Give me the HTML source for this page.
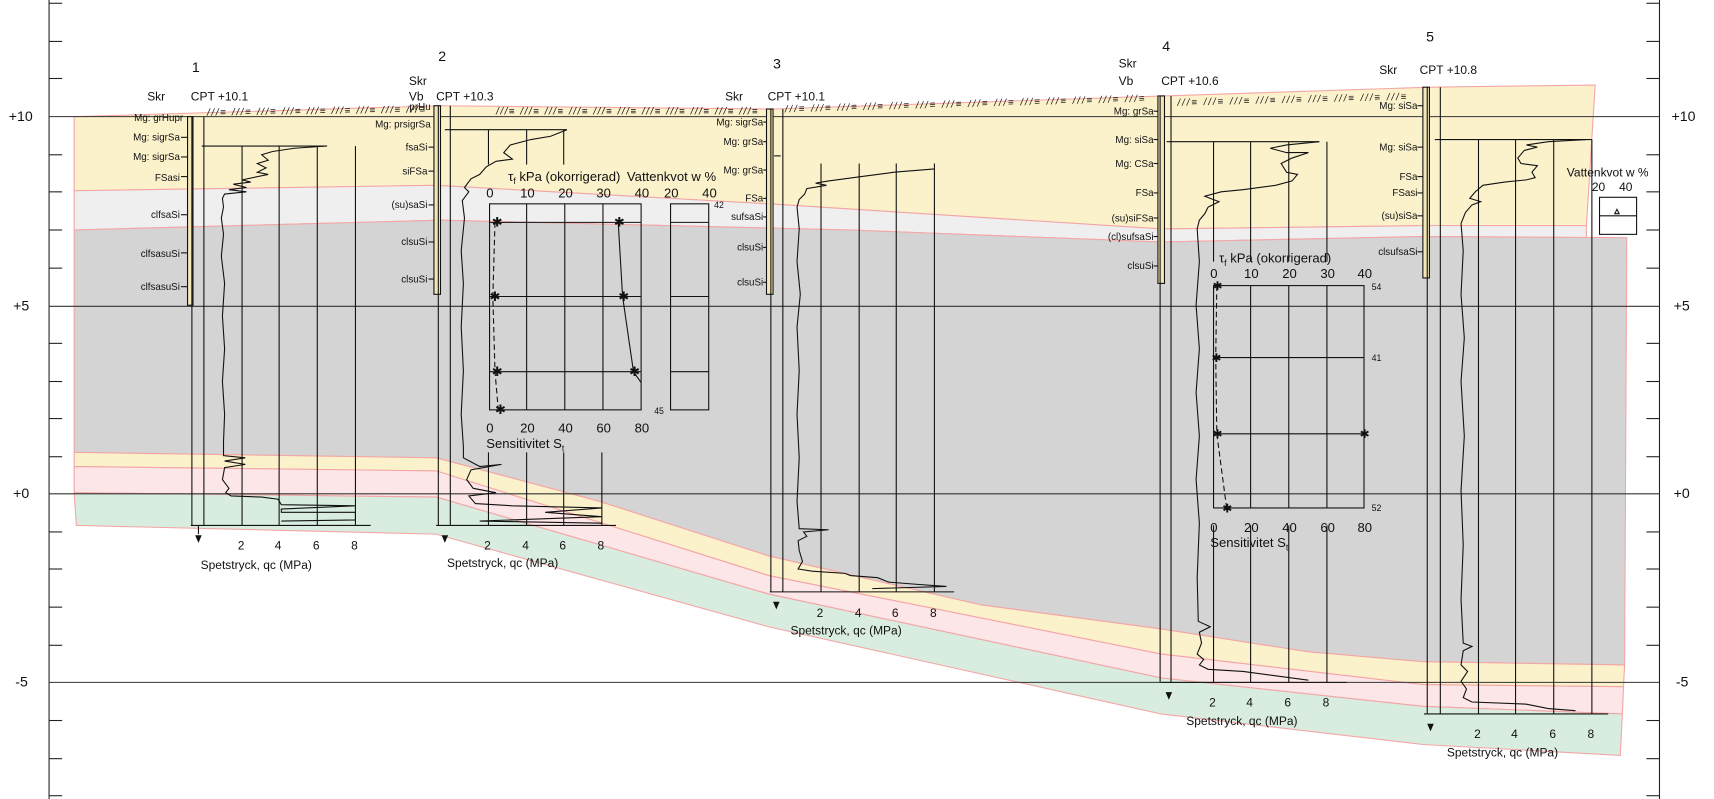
<!DOCTYPE html>
<html><head><meta charset="utf-8"><style>
html,body{margin:0;padding:0;background:#fff;}
svg{display:block;}
text{font-family:"Liberation Sans Narrow","Liberation Sans",sans-serif;fill:#111;}
</style></head><body>
<svg width="1714" height="799" viewBox="0 0 1572 733" preserveAspectRatio="none" xmlns="http://www.w3.org/2000/svg">
<g stroke="#f4a6a6" stroke-width="1">
<polygon fill="#fbf2cc" points="68,107 404,97 709,100 1068,88 1311,80 1463,78 1455,207 1305,207 1065,210 705,187 400,170 68,175"/>
<polygon fill="#efefef" points="68,175 400,170 705,187 1065,210 1305,207 1455,207 1455,218 1305,217 1065,222 780,211 404,202 68,211"/>
<polygon fill="#d4d4d4" points="68,211 404,202 780,211 1065,222 1305,217 1492,218 1490,610 1305,607 1200,598 1065,577 900,555 705,510 550,460 400,420 68,415"/>
<polygon fill="#fbf2cc" points="68,415 400,420 550,460 705,510 900,555 1065,577 1200,598 1305,607 1490,610 1489,630 1305,628 1065,600 705,528 400,432 68,428"/>
<polygon fill="#fde6e8" points="68,428 400,432 705,528 1065,600 1305,628 1489,630 1488,655 1305,648 1065,622 705,545 400,456 68,452"/>
<polygon fill="#d8ede0" points="68,452 400,456 705,545 1065,622 1305,648 1488,655 1486,693 1305,683 1065,655 705,575 400,490 70,482"/>
</g>
<g stroke="#222" stroke-width="1">
<line x1="45" y1="0" x2="45" y2="733"/><line x1="1522" y1="0" x2="1522" y2="733"/>
<g id="tk">
<line x1="45" y1="3" x2="57" y2="3"/><line x1="45" y1="38" x2="57" y2="38"/><line x1="45" y1="72" x2="57" y2="72"/><line x1="45" y1="142" x2="57" y2="142"/><line x1="45" y1="176" x2="57" y2="176"/><line x1="45" y1="211" x2="57" y2="211"/><line x1="45" y1="246" x2="57" y2="246"/><line x1="45" y1="315" x2="57" y2="315"/><line x1="45" y1="350" x2="57" y2="350"/><line x1="45" y1="384" x2="57" y2="384"/><line x1="45" y1="419" x2="57" y2="419"/><line x1="45" y1="488" x2="57" y2="488"/><line x1="45" y1="522" x2="57" y2="522"/><line x1="45" y1="557" x2="57" y2="557"/><line x1="45" y1="592" x2="57" y2="592"/><line x1="45" y1="661" x2="57" y2="661"/><line x1="45" y1="696" x2="57" y2="696"/><line x1="45" y1="730" x2="57" y2="730"/>
</g>
<use href="#tk" transform="translate(1465,0)"/>
<line x1="45" y1="107" x2="1522" y2="107" stroke="#333"/>
<line x1="45" y1="281" x2="1522" y2="281" stroke="#333"/>
<line x1="45" y1="453" x2="1522" y2="453" stroke="#333"/>
<line x1="45" y1="626" x2="1522" y2="626" stroke="#333"/>
</g>
<g font-size="13">
<text x="8" y="111">+10</text><text x="12" y="285">+5</text><text x="12" y="457">+0</text><text x="14" y="630">-5</text>
<text x="1533" y="111">+10</text><text x="1535" y="285">+5</text><text x="1535" y="457">+0</text><text x="1537" y="630">-5</text>
</g>
<g font-size="9" font-style="italic" fill="#333">
<text x="190" y="106" textLength="200" transform="rotate(-0.8 190 106)">///≡ ///≡ ///≡ ///≡ ///≡ ///≡ ///≡ ///≡ ///≡</text>
<text x="455" y="105" textLength="240">///≡ ///≡ ///≡ ///≡ ///≡ ///≡ ///≡ ///≡ ///≡ ///≡ ///≡</text>
<text x="720" y="103" textLength="330" transform="rotate(-1.7 720 103)">///≡ ///≡ ///≡ ///≡ ///≡ ///≡ ///≡ ///≡ ///≡ ///≡ ///≡ ///≡ ///≡ ///≡</text>
<text x="1080" y="97" textLength="210" transform="rotate(-1.5 1080 97)">///≡ ///≡ ///≡ ///≡ ///≡ ///≡ ///≡ ///≡ ///≡</text>
</g>

<!-- Borehole 1 -->
<g stroke="#111" stroke-width="1" fill="none">
<rect x="172" y="107" width="5" height="173" fill="#f3e7b8"/>
<line x1="176" y1="107" x2="176" y2="482"/><line x1="187" y1="107" x2="187" y2="482"/>
<line x1="222" y1="134" x2="222" y2="482"/><line x1="256" y1="134" x2="256" y2="482"/><line x1="291" y1="134" x2="291" y2="482"/><line x1="326" y1="134" x2="326" y2="482"/>
<line x1="185" y1="134" x2="300" y2="134"/><line x1="175" y1="482" x2="340" y2="482"/>
<line x1="182" y1="482" x2="182" y2="490"/>
<polyline points="298,134 270,136 250,139 240,142 246,147 236,150 244,154 236,158 246,160 222,165 230,167 214,169 226,172 210,174 226,176 206,178 204,182 205,190 203,200 205,215 203,235 206,260 204,290 206,320 204,350 206,380 205,405 205,418 225,420 206,423 225,426 206,429 204,440 210,448 207,452 212,455 240,456 255,458 258,463 326,464 258,467 258,470 326,470 326,477 258,478"/>
</g>
<polygon points="179,491 185,491 182,498" fill="#111"/>
<g font-size="9" text-anchor="end">
<text x="168" y="111">Mg: grHupr</text><text x="165" y="129">Mg: sigrSa</text><text x="165" y="147">Mg: sigrSa</text><text x="165" y="166">FSasi</text><text x="165" y="200">clfsaSi</text><text x="165" y="236">clfsasuSi</text><text x="165" y="266">clfsasuSi</text>
</g>
<g stroke="#111"><line x1="166" y1="126" x2="172" y2="126"/><line x1="166" y1="144" x2="172" y2="144"/><line x1="166" y1="162" x2="172" y2="162"/><line x1="166" y1="197" x2="172" y2="197"/><line x1="166" y1="232" x2="172" y2="232"/><line x1="166" y1="263" x2="172" y2="263"/></g>
<g font-size="13"><text x="176" y="66">1</text><text x="135" y="92" font-size="11">Skr</text><text x="175" y="92" font-size="11">CPT  +10.1</text></g>
<g font-size="11"><text x="218" y="504">2</text><text x="252" y="504">4</text><text x="287" y="504">6</text><text x="322" y="504">8</text><text x="184" y="522">Spetstryck, qc (MPa)</text></g>

<!-- Borehole 2 -->
<g stroke="#111" stroke-width="1" fill="none">
<rect x="398" y="97" width="6" height="173" fill="#f3e7b8"/>
<line x1="402" y1="97" x2="402" y2="482"/><line x1="413" y1="97" x2="413" y2="482"/>
<line x1="448" y1="119" x2="448" y2="151"/><line x1="483" y1="119" x2="483" y2="151"/><line x1="517" y1="119" x2="517" y2="151"/>
<line x1="448" y1="415" x2="448" y2="482"/><line x1="483" y1="415" x2="483" y2="482"/><line x1="517" y1="415" x2="517" y2="482"/><line x1="552" y1="415" x2="552" y2="482"/>
<line x1="408" y1="119" x2="520" y2="119"/><line x1="400" y1="482" x2="565" y2="482"/>
<polyline points="520,119 505,125 487,128 468,133 462,140 470,146 455,148 446,153 440,160 432,164 426,172 430,176 424,184 426,200 423,230 425,260 423,300 425,340 423,380 425,410 425,420 440,428 460,426 432,431 428,440 434,448 455,452 430,455 436,462 470,464 552,466 500,470 552,474 440,478 552,480"/>
</g>
<polygon points="405,491 411,491 408,498" fill="#111"/>
<g font-size="9" text-anchor="end">
<text x="395" y="101">prHu</text><text x="395" y="117">Mg: prsigrSa</text><text x="392" y="138">fsaSi</text><text x="392" y="160">siFSa</text><text x="392" y="191">(su)saSi</text><text x="392" y="225">clsuSi</text><text x="392" y="259">clsuSi</text>
</g>
<g stroke="#111"><line x1="393" y1="135" x2="398" y2="135"/><line x1="393" y1="157" x2="398" y2="157"/><line x1="393" y1="188" x2="398" y2="188"/><line x1="393" y1="222" x2="398" y2="222"/><line x1="393" y1="256" x2="398" y2="256"/></g>
<g font-size="11"><text x="402" y="56" font-size="13">2</text><text x="375" y="78">Skr</text><text x="375" y="92">Vb</text><text x="400" y="92">CPT  +10.3</text></g>
<g font-size="11"><text x="444" y="504">2</text><text x="479" y="504">4</text><text x="513" y="504">6</text><text x="548" y="504">8</text><text x="410" y="520">Spetstryck, qc (MPa)</text></g>

<!-- Chart A -->
<g stroke="#111" stroke-width="1" fill="none">
<rect x="449" y="187" width="139" height="189"/>
<line x1="483" y1="187" x2="483" y2="376"/><line x1="518" y1="187" x2="518" y2="376"/><line x1="553" y1="187" x2="553" y2="376"/>
<line x1="449" y1="204" x2="588" y2="204"/><line x1="449" y1="272" x2="588" y2="272"/><line x1="449" y1="341" x2="588" y2="341"/>
<rect x="615" y="187" width="35" height="189"/>
<line x1="615" y1="204" x2="650" y2="204"/><line x1="615" y1="272" x2="650" y2="272"/><line x1="615" y1="341" x2="650" y2="341"/>
<polyline points="454,204 452,272 454,341 457,376" stroke-dasharray="5,3"/>
<polyline points="567,204 571,272 581,341 588,351"/>
</g>
<g font-size="12" fill="#111"><text x="451" y="208">✱</text><text x="449" y="276">✱</text><text x="451" y="345">✱</text><text x="454" y="380">✱</text><text x="563" y="208">✱</text><text x="567" y="276">✱</text><text x="577" y="345">✱</text></g>
<g font-size="12"><text x="466" y="166">τ<tspan font-size="8" dy="3">f</tspan><tspan dy="-3">  kPa  (okorrigerad)</tspan></text>
<text x="575" y="166">Vattenkvot  w  %</text>
<text x="446" y="181">0</text><text x="477" y="181">10</text><text x="512" y="181">20</text><text x="547" y="181">30</text><text x="582" y="181">40</text><text x="609" y="181">20</text><text x="644" y="181">40</text>
<text x="446" y="397">0</text><text x="477" y="397">20</text><text x="512" y="397">40</text><text x="547" y="397">60</text><text x="582" y="397">80</text>
<text x="446" y="411">Sensitivitet  S<tspan font-size="8" dy="3">t</tspan></text>
<text x="655" y="191" font-size="8">42</text><text x="600" y="380" font-size="8">45</text></g>

<!-- Borehole 3 -->
<g stroke="#111" stroke-width="1" fill="none">
<rect x="703" y="100" width="6" height="170" fill="#f3e7b8"/>
<line x1="707" y1="100" x2="707" y2="543"/><line x1="718" y1="100" x2="718" y2="543"/>
<line x1="753" y1="150" x2="753" y2="543"/><line x1="788" y1="150" x2="788" y2="543"/><line x1="822" y1="150" x2="822" y2="543"/><line x1="857" y1="150" x2="857" y2="543"/>
<line x1="710" y1="143" x2="716" y2="143"/><line x1="706" y1="543" x2="875" y2="543"/>
<polyline points="857,155 820,158 790,162 760,166 748,168 758,170 740,173 738,178 733,183 731,190 733,210 731,240 734,270 731,300 733,340 731,380 733,420 731,460 733,485 760,486 737,488 740,492 732,496 733,505 736,515 732,522 745,524 775,526 780,528 805,530 815,534 840,536 868,538 800,540"/>
</g>
<polygon points="709,552 715,552 712,559" fill="#111"/>
<g font-size="9" text-anchor="end">
<text x="700" y="115">Mg: sigrSa</text><text x="700" y="133">Mg: grSa</text><text x="700" y="159">Mg: grSa</text><text x="700" y="185">FSa</text><text x="700" y="202">sufsaSi</text><text x="700" y="230">clsuSi</text><text x="700" y="262">clsuSi</text>
</g>
<g stroke="#111"><line x1="700" y1="112" x2="703" y2="112"/><line x1="700" y1="130" x2="703" y2="130"/><line x1="700" y1="156" x2="703" y2="156"/><line x1="700" y1="182" x2="703" y2="182"/><line x1="700" y1="199" x2="703" y2="199"/><line x1="700" y1="227" x2="703" y2="227"/><line x1="700" y1="259" x2="703" y2="259"/></g>
<g font-size="11"><text x="709" y="63" font-size="13">3</text><text x="665" y="92">Skr</text><text x="704" y="92">CPT  +10.1</text></g>
<g font-size="11"><text x="749" y="566">2</text><text x="784" y="566">4</text><text x="818" y="566">6</text><text x="853" y="566">8</text><text x="725" y="582">Spetstryck, qc (MPa)</text></g>

<!-- Borehole 4 -->
<g stroke="#111" stroke-width="1" fill="none">
<rect x="1062" y="88" width="6" height="172" fill="#f3e7b8"/>
<line x1="1064" y1="88" x2="1064" y2="626"/><line x1="1074" y1="88" x2="1074" y2="626"/>
<line x1="1113" y1="130" x2="1113" y2="240"/><line x1="1147" y1="130" x2="1147" y2="240"/><line x1="1182" y1="130" x2="1182" y2="240"/><line x1="1217" y1="130" x2="1217" y2="240"/>
<line x1="1113" y1="482" x2="1113" y2="626"/><line x1="1147" y1="482" x2="1147" y2="626"/><line x1="1182" y1="482" x2="1182" y2="626"/><line x1="1217" y1="482" x2="1217" y2="626"/>
<line x1="1070" y1="130" x2="1210" y2="130"/><line x1="1065" y1="626" x2="1235" y2="626"/>
<polyline points="1210,130 1180,133 1165,136 1180,140 1200,140 1185,145 1175,150 1180,158 1190,160 1185,166 1170,170 1140,174 1120,176 1105,180 1110,182 1118,185 1108,190 1105,196 1100,202 1098,210 1100,240 1097,280 1100,320 1097,360 1100,400 1097,440 1100,480 1098,530 1099,570 1110,575 1100,580 1102,590 1098,600 1104,605 1100,610 1108,614 1140,616 1170,620 1200,624"/>
</g>
<polygon points="1069,635 1075,635 1072,642" fill="#111"/>
<g font-size="9" text-anchor="end">
<text x="1058" y="105">Mg: grSa</text><text x="1058" y="131">Mg: siSa</text><text x="1058" y="153">Mg: CSa</text><text x="1058" y="180">FSa</text><text x="1058" y="203">(su)siFSa</text><text x="1058" y="220">(cl)sufsaSi</text><text x="1058" y="247">clsuSi</text>
</g>
<g stroke="#111"><line x1="1058" y1="102" x2="1062" y2="102"/><line x1="1058" y1="128" x2="1062" y2="128"/><line x1="1058" y1="150" x2="1062" y2="150"/><line x1="1058" y1="177" x2="1062" y2="177"/><line x1="1058" y1="200" x2="1062" y2="200"/><line x1="1058" y1="217" x2="1062" y2="217"/><line x1="1058" y1="244" x2="1062" y2="244"/></g>
<g font-size="11"><text x="1066" y="47" font-size="13">4</text><text x="1026" y="62">Skr</text><text x="1026" y="78">Vb</text><text x="1065" y="78">CPT  +10.6</text></g>
<g font-size="11"><text x="1109" y="648">2</text><text x="1143" y="648">4</text><text x="1178" y="648">6</text><text x="1213" y="648">8</text><text x="1088" y="665">Spetstryck, qc (MPa)</text></g>

<!-- Chart B -->
<g stroke="#111" stroke-width="1" fill="none">
<rect x="1113" y="262" width="138" height="204"/>
<line x1="1147" y1="262" x2="1147" y2="466"/><line x1="1182" y1="262" x2="1182" y2="466"/><line x1="1217" y1="262" x2="1217" y2="466"/>
<line x1="1113" y1="328" x2="1251" y2="328"/><line x1="1113" y1="398" x2="1251" y2="398"/>
<polyline points="1116,262 1115,328 1116,398 1125,466" stroke-dasharray="5,3"/>
</g>
<g font-size="11" fill="#111"><text x="1112" y="266">✱</text><text x="1111" y="332">✱</text><text x="1112" y="402">✱</text><text x="1247" y="402">✱</text><text x="1121" y="470">✱</text></g>
<g font-size="12"><text x="1118" y="241">τ<tspan font-size="8" dy="3">f</tspan><tspan dy="-3">  kPa  (okorrigerad)</tspan></text>
<text x="1110" y="255">0</text><text x="1141" y="255">10</text><text x="1176" y="255">20</text><text x="1211" y="255">30</text><text x="1245" y="255">40</text>
<text x="1110" y="488">0</text><text x="1141" y="488">20</text><text x="1176" y="488">40</text><text x="1211" y="488">60</text><text x="1245" y="488">80</text>
<text x="1110" y="502">Sensitivitet  S<tspan font-size="8" dy="3">t</tspan></text>
<text x="1258" y="266" font-size="8">54</text><text x="1258" y="331" font-size="8">41</text><text x="1258" y="469" font-size="8">52</text></g>

<!-- Borehole 5 -->
<g stroke="#111" stroke-width="1" fill="none">
<rect x="1305" y="80" width="6" height="175" fill="#f3e7b8"/>
<line x1="1309" y1="80" x2="1309" y2="655"/><line x1="1321" y1="80" x2="1321" y2="655"/>
<line x1="1356" y1="128" x2="1356" y2="655"/><line x1="1390" y1="128" x2="1390" y2="655"/><line x1="1425" y1="128" x2="1425" y2="655"/><line x1="1460" y1="128" x2="1460" y2="655"/>
<line x1="1316" y1="128" x2="1460" y2="128"/><line x1="1306" y1="655" x2="1475" y2="655"/>
<polyline points="1455,128 1420,130 1400,133 1410,135 1398,138 1392,145 1395,150 1410,152 1405,158 1408,163 1400,165 1380,167 1360,170 1353,176 1348,182 1358,185 1350,188 1344,195 1340,205 1342,230 1340,270 1343,310 1340,350 1343,400 1340,450 1342,500 1340,550 1342,590 1350,593 1342,597 1340,610 1346,616 1340,625 1345,632 1342,640 1350,644 1400,646 1420,650 1445,652"/>
</g>
<polygon points="1309,664 1315,664 1312,671" fill="#111"/>
<g font-size="9" text-anchor="end">
<text x="1300" y="100">Mg: siSa</text><text x="1300" y="138">Mg: siSa</text><text x="1300" y="165">FSa</text><text x="1300" y="180">FSasi</text><text x="1300" y="201">(su)siSa</text><text x="1300" y="234">clsufsaSi</text>
</g>
<g stroke="#111"><line x1="1300" y1="97" x2="1305" y2="97"/><line x1="1300" y1="135" x2="1305" y2="135"/><line x1="1300" y1="162" x2="1305" y2="162"/><line x1="1300" y1="177" x2="1305" y2="177"/><line x1="1300" y1="198" x2="1305" y2="198"/><line x1="1300" y1="231" x2="1305" y2="231"/></g>
<g font-size="11"><text x="1308" y="38" font-size="13">5</text><text x="1265" y="68">Skr</text><text x="1302" y="68">CPT  +10.8</text></g>
<g font-size="11"><text x="1352" y="677">2</text><text x="1386" y="677">4</text><text x="1421" y="677">6</text><text x="1456" y="677">8</text><text x="1327" y="694">Spetstryck, qc (MPa)</text></g>

<g font-size="11"><text x="1437" y="162">Vattenkvot  w  %</text><text x="1460" y="175">20</text><text x="1485" y="175">40</text></g>
<g stroke="#111" fill="none"><rect x="1467" y="181" width="34" height="34"/><line x1="1467" y1="198" x2="1501" y2="198"/><polygon points="1481,196 1485,196 1483,192"/></g>
</svg>
</body></html>
